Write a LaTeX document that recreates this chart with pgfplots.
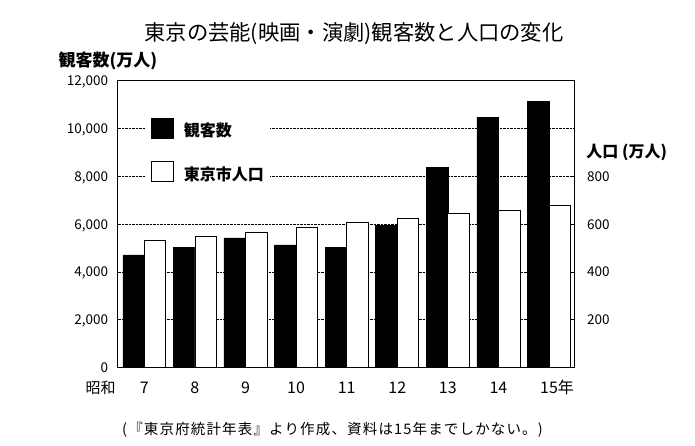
\documentclass[border=0pt]{standalone}
\usepackage{fontspec}
\setmainfont{Noto Sans CJK JP}
\usepackage{pgfplots}
\pgfplotsset{compat=1.18}
\begin{document}
\begin{tikzpicture}[x=1pt,y=1pt]
\path (0,0) rectangle (695,445);
\pgfplotsset{
  common/.style={
    at={(117.5pt,77.5pt)}, anchor=south west,
    scale only axis, width=456.8pt, height=286.8pt,
    xmin=-0.53, xmax=8.5,
    ybar, bar width=21.5pt,
    axis line style={line width=1.2pt},
    scaled y ticks=false,
    /pgf/number format/assume math mode=true,
  }
}
\begin{axis}[common,
  ymin=0, ymax=12000,
  ytick={0,2000,...,12000},
  /pgf/number format/1000 sep={,},
  ymajorgrids,
  grid style={densely dotted, black, line width=0.6pt},
  major tick length=0pt,
  ytick pos=left,
  xtick={0,...,8},
  xticklabels={7,8,9,10,11,12,13,14,15\rlap{年}},
  xticklabel style={anchor=base, inner sep=0pt, yshift=-26.4pt, font=\fontsize{16}{18}\selectfont},
  yticklabel style={anchor=base east, inner sep=0pt, xshift=-9.2pt, yshift=-4.9pt, font=\fontsize{13.5}{15}\selectfont},
  bar shift=-10.75pt,
  legend image code/.code={\draw[#1] (0pt,-1.5pt) rectangle (22pt,18.5pt);},
  legend style={at={(0.0602,0.8828)}, anchor=north west, draw=none, fill=white,
    inner xsep=6pt, inner ysep=3pt, row sep=23pt, column sep=10pt,
    nodes={inner sep=0pt, anchor=base west},
    font=\fontsize{16}{18}\selectfont\bfseries},
  legend cell align=left,
]
\addplot[fill=black, draw=black, line width=0.6pt] coordinates {
(0,4710) (1,5040) (2,5420) (3,5130) (4,5030) (5,5950) (6,8370) (7,10470) (8,11140)};
\addlegendentry{観客数}
\addlegendimage{fill=white, draw=black, line width=0.8pt}
\addlegendentry{東京市人口}
\end{axis}
\begin{axis}[common,
  ymin=0, ymax=1200,
  hide x axis,
  axis y line*=right,
  ytick={200,400,600,800},
  tick align=inside, major tick length=4pt,
  tick style={black, line width=0.7pt},
  yticklabel style={anchor=base west, inner sep=0pt, xshift=12.7pt, yshift=-4.9pt, font=\fontsize{13.5}{15}\selectfont},
  bar shift=10.75pt,
]
\addplot[fill=white, draw=black, line width=0.8pt] coordinates {
(0,532) (1,549) (2,566) (3,587) (4,607) (5,625) (6,644) (7,657) (8,678)};
\end{axis}
\node[anchor=base, inner sep=0pt, font=\fontsize{21.3}{23}\selectfont] at (354,404.4) {東京の芸能(映画・演劇)観客数と人口の変化};
\node[anchor=base, inner sep=0pt, font=\fontsize{17}{19}\selectfont\bfseries] at (107.8,378.5) {観客数(万人)};
\node[anchor=base, inner sep=0pt, font=\fontsize{16}{18}\selectfont\bfseries] at (626.7,287.2) {人口 (万人)};
\node[anchor=base, inner sep=0pt, font=\fontsize{15}{17}\selectfont] at (100.7,51.3) {昭和};
\node[anchor=base, inner sep=0pt, font=\fontsize{14.5}{16}\selectfont\addfontfeature{LetterSpace=8}] at (332.5,10.7) {(『東京府統計年表』より作成、資料は15年までしかない。)};
\end{tikzpicture}
\end{document}
